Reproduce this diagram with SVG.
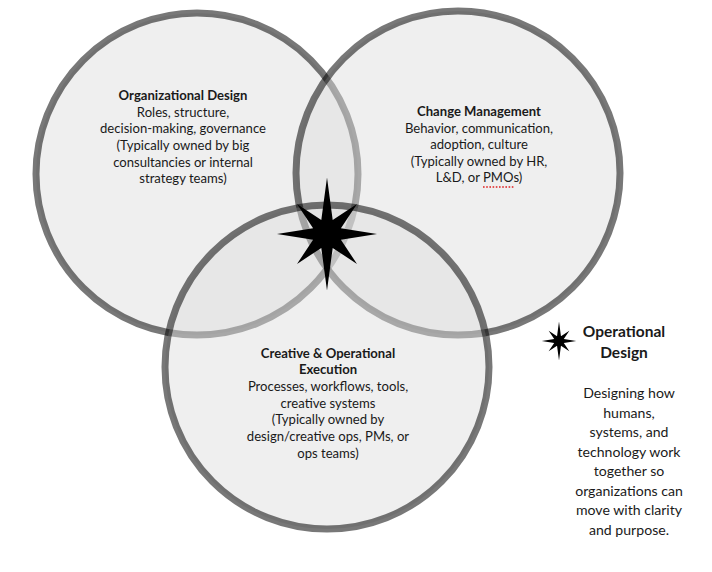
<svg xmlns="http://www.w3.org/2000/svg" width="712" height="572" viewBox="0 0 712 572">
<style>
.c{fill:#dddddd;fill-opacity:0.48;stroke:#000;stroke-opacity:0.53;stroke-width:7}
.t{font-family:Lato,"Open Sans","Liberation Sans",sans-serif;font-size:13.1px;fill:#1a1a1a;text-anchor:middle}
.b{font-weight:bold}
.l{font-family:Lato,"Open Sans","Liberation Sans",sans-serif;font-size:14.1px;fill:#1a1a1a;text-anchor:middle}
.lb{font-size:15.5px;font-weight:bold}
</style>
<defs>
<path id="star" d="M0,-56.5 L5.7,-13.9 L30,-30 L13.9,-5.7 L50,0 L13.9,5.7 L30,30 L5.7,13.9 L0,56.5 L-5.7,13.9 L-30,30 L-13.9,5.7 L-50,0 L-13.9,-5.7 L-30,-30 L-5.7,-13.9 Z" fill="#000"/>
</defs>
<rect width="712" height="572" fill="#fff"/>
<g id="org-design">
<circle class="c" cx="197" cy="174" r="161"/>
<text class="t"><tspan class="b" x="183" y="100">Organizational Design</tspan><tspan x="183" y="116.7">Roles, structure,</tspan><tspan x="183" y="133.3">decision-making, governance</tspan><tspan x="183" y="150">(Typically owned by big</tspan><tspan x="183" y="166.7">consultancies or internal</tspan><tspan x="183" y="183.3">strategy teams)</tspan></text>
</g>
<g id="change-management">
<circle class="c" cx="458" cy="173" r="162"/>
<text class="t"><tspan class="b" x="479" y="116">Change Management</tspan><tspan x="479" y="132.6">Behavior, communication,</tspan><tspan x="479" y="149.2">adoption, culture</tspan><tspan x="479" y="165.8">(Typically owned by HR,</tspan><tspan x="479" y="182.4">L&amp;D, or PMOs)</tspan></text>
<line x1="483" y1="187" x2="514" y2="187" stroke="#e02020" stroke-width="1.6" stroke-dasharray="1.6,1.6"/>
</g>
<g id="creative-execution">
<circle class="c" cx="327" cy="367" r="162"/>
<text class="t"><tspan class="b" x="328" y="357.5">Creative &amp; Operational</tspan><tspan class="b" x="328" y="374.2">Execution</tspan><tspan x="328" y="390.9">Processes, workflows, tools,</tspan><tspan x="328" y="407.6">creative systems</tspan><tspan x="328" y="424.3">(Typically owned by</tspan><tspan x="328" y="441">design/creative ops, PMs, or</tspan><tspan x="328" y="457.7">ops teams)</tspan></text>
</g>
<g id="operational-design-star">
<use href="#star" transform="translate(327,234)"/>
</g>
<g id="legend">
<use href="#star" transform="translate(559,341) scale(0.345)"/>
<text class="l lb"><tspan x="624" y="337">Operational</tspan><tspan x="624" y="358">Design</tspan></text>
<text class="l"><tspan x="629" y="398">Designing how</tspan><tspan x="629" y="417.5">humans,</tspan><tspan x="629" y="437">systems, and</tspan><tspan x="629" y="456.5">technology work</tspan><tspan x="629" y="476">together so</tspan><tspan x="629" y="495.5">organizations can</tspan><tspan x="629" y="515">move with clarity</tspan><tspan x="629" y="534.5">and purpose.</tspan></text>
</g>
<g id="connectors"/>
</svg>
